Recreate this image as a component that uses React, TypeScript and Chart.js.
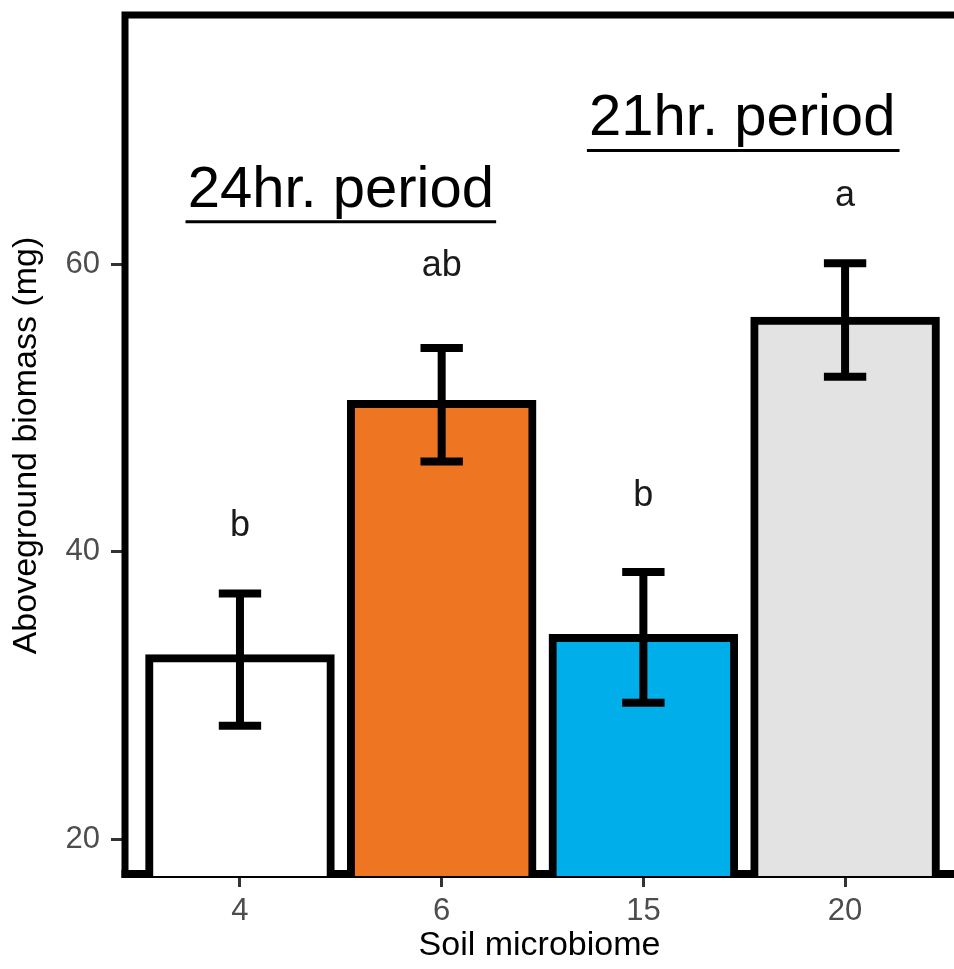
import React, { useEffect, useRef } from "react";
import { Chart, registerables } from "chart.js";

Chart.register(...registerables);

// ---- data ----
const categories = ["4", "6", "15", "20"];
const positions = [1, 2, 3, 4];
const means = [32.6, 50.3, 34.0, 56.1];
const errLow = [27.9, 46.3, 29.5, 52.2];
const errHigh = [37.1, 54.2, 38.6, 60.1];
const barColors = ["#FFFFFF", "#EE7623", "#00AEEA", "#E3E3E3"];
const letters = ["b", "ab", "b", "a"];
const letterY = [41.1, 59.2, 43.2, 64.1];
const yTicks = [20, 40, 60];
const periodLabels = ["24hr. period", "21hr. period"];
const periodX = [1.5, 3.49];
const periodTextY = [64.0, 69.0];
const periodLineY = [63.0, 67.95];
const periodLineFrom = [0.73, 2.72];
const periodLineTo = [2.27, 4.27];

const FONT = "'Liberation Sans', Arial, Helvetica, sans-serif";

const annotPlugin = {
  id: "annot",
  beforeDatasetsDraw(chart: any) {
    const { ctx, chartArea: a } = chart;
    ctx.save();
    ctx.strokeStyle = "#000";
    ctx.lineCap = "butt";
    // bottom (thick)
    ctx.lineWidth = 8;
    ctx.beginPath();
    ctx.moveTo(a.left - 3.5, a.bottom - 2);
    ctx.lineTo(a.right, a.bottom - 2);
    ctx.stroke();
    // left + top
    ctx.lineWidth = 7;
    ctx.beginPath();
    ctx.moveTo(a.left, a.bottom + 2);
    ctx.lineTo(a.left, a.top - 3.5);
    ctx.moveTo(a.left - 3.5, a.top);
    ctx.lineTo(a.right, a.top);
    ctx.stroke();
    ctx.restore();
  },
  afterDatasetsDraw(chart: any) {
    const { ctx } = chart;
    const xs = chart.scales.x;
    const ys = chart.scales.y;
    const unit = xs.getPixelForValue(2) - xs.getPixelForValue(1);
    ctx.save();
    // error bars
    ctx.strokeStyle = "#000";
    ctx.lineWidth = 8;
    ctx.lineCap = "butt";
    positions.forEach((p, i) => {
      const x = xs.getPixelForValue(p);
      const yh = ys.getPixelForValue(errHigh[i]);
      const yl = ys.getPixelForValue(errLow[i]);
      const hw = 0.105 * unit;
      ctx.beginPath();
      ctx.moveTo(x - hw, yh);
      ctx.lineTo(x + hw, yh);
      ctx.moveTo(x, yh);
      ctx.lineTo(x, yl);
      ctx.moveTo(x - hw, yl);
      ctx.lineTo(x + hw, yl);
      ctx.stroke();
    });
    // letters
    ctx.fillStyle = "#1a1a1a";
    ctx.textAlign = "center";
    ctx.textBaseline = "alphabetic";
    ctx.font = `36px ${FONT}`;
    positions.forEach((p, i) => {
      ctx.fillText(letters[i], xs.getPixelForValue(p), ys.getPixelForValue(letterY[i]));
    });
    // period labels
    ctx.fillStyle = "#000";
    ctx.font = `58px ${FONT}`;
    periodLabels.forEach((t, i) => {
      ctx.fillText(t, xs.getPixelForValue(periodX[i]), ys.getPixelForValue(periodTextY[i]));
      ctx.lineWidth = 3;
      ctx.beginPath();
      const yy = ys.getPixelForValue(periodLineY[i]);
      ctx.moveTo(xs.getPixelForValue(periodLineFrom[i]), yy);
      ctx.lineTo(xs.getPixelForValue(periodLineTo[i]), yy);
      ctx.stroke();
    });
    ctx.restore();
  },
};

export default function App() {
  const ref = useRef<HTMLCanvasElement | null>(null);
  useEffect(() => {
    if (!ref.current) return;
    const chart = new Chart(ref.current, {
      type: "bar",
      data: {
        datasets: [
          {
            data: positions.map((p, i) => ({ x: p, y: means[i] })),
            backgroundColor: barColors,
            borderColor: "#000",
            borderWidth: 8,
            borderSkipped: false,
            inflateAmount: 4,
            barPercentage: 0.9,
            categoryPercentage: 1,
            clip: 0,
          } as any,
        ],
      },
      options: {
        animation: false,
        responsive: false,
        maintainAspectRatio: false,
        layout: { padding: { top: 15, left: 0, right: 0, bottom: 0 } },
        plugins: { legend: { display: false }, tooltip: { enabled: false } },
        scales: {
          x: {
            type: "linear",
            offset: false,
            min: 0.43,
            max: 4.54,
            afterBuildTicks: (s: any) => {
              s.ticks = positions.map((v) => ({ value: v }));
            },
            afterFit: (s: any) => {
              s.height = 93;
              s.paddingLeft = 0;
              s.paddingRight = 0;
            },
            ticks: {
              callback: (v: any) => categories[Math.round(v) - 1] ?? "",
              color: "#4D4D4D",
              font: { family: FONT, size: 31 },
              padding: 6,
              autoSkip: false,
              maxRotation: 0,
            },
            grid: {
              offset: false,
              drawOnChartArea: false,
              drawTicks: true,
              tickLength: 11,
              tickWidth: 3,
              tickColor: "#333333",
            },
            border: { display: false },
            title: {
              display: true,
              text: "Soil microbiome",
              color: "#000",
              font: { family: FONT, size: 34 },
              padding: { top: 0, bottom: 3 },
            },
          },
          y: {
            type: "linear",
            min: 17.43,
            max: 77.39,
            afterBuildTicks: (s: any) => {
              s.ticks = yTicks.map((v) => ({ value: v }));
            },
            afterFit: (s: any) => {
              s.width = 125;
              s.paddingTop = 0;
              s.paddingBottom = 0;
            },
            ticks: {
              color: "#4D4D4D",
              font: { family: FONT, size: 31 },
              padding: 11,
            },
            grid: {
              drawOnChartArea: false,
              drawTicks: true,
              tickLength: 14,
              tickWidth: 3,
              tickColor: "#333333",
            },
            border: { display: false },
            title: {
              display: true,
              text: "Aboveground biomass (mg)",
              color: "#000",
              font: { family: FONT, size: 34 },
              padding: { top: 6, bottom: 0 },
            },
          },
        },
      },
      plugins: [annotPlugin],
    });
    return () => chart.destroy();
  }, []);
  return (
    <div style={{ position: "absolute", left: 0, top: 0, width: 954, height: 969 }}>
      <canvas ref={ref} width={954} height={969} style={{ display: "block", width: 954, height: 969 }} />
    </div>
  );
}
